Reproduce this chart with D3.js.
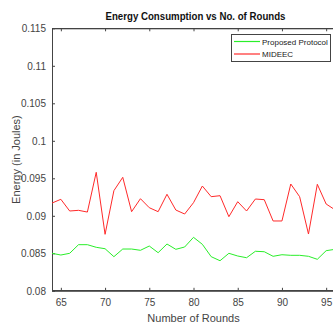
<!DOCTYPE html>
<html><head><meta charset="utf-8">
<script src="https://cdn.jsdelivr.net/npm/d3@7"></script>
<style>body{margin:0;background:#fff;overflow:hidden}svg{display:block}</style>
</head><body>
<svg id="c" width="333" height="325"></svg>
<script>
const rounds = d3.range(64, 97);
const proposed = [0.0850,0.08477,0.0850,0.08615,0.08615,0.0858,0.08561,0.08455,0.08557,0.08557,0.0854,0.08597,0.08508,0.08624,0.08553,0.08584,0.08713,0.0862,0.08455,0.08401,0.0850,0.08464,0.08441,0.08527,0.08521,0.0846,0.08481,0.08473,0.08473,0.0846,0.0842,0.08535,0.08553];
const mideec = [0.0917,0.0922,0.09064,0.09073,0.0905,0.0958,0.08753,0.09335,0.09513,0.09055,0.09228,0.09108,0.09055,0.09287,0.09077,0.09024,0.09175,0.09397,0.09255,0.09268,0.08988,0.09188,0.09064,0.09224,0.09215,0.08931,0.08931,0.09424,0.09255,0.08757,0.0942,0.09157,0.0908];
const xTicks = [65,70,75,80,85,90,95];
const yTicks = [0.08,0.085,0.09,0.095,0.1,0.105,0.11,0.115];
const seriesNames = ["Proposed Protocol","MIDEEC"];
const colors = ["#2aee2a","#ff2a2a"];

const svg = d3.select("#c");
const L=52, R=335, T=28.3, B=290.8;
const x = d3.scaleLinear().domain([64,96]).range([L,R]);
const y = d3.scaleLinear().domain([0.08,0.115]).range([B,T]);
const font = "'Liberation Sans', Arial, sans-serif";

svg.append("rect").attr("x",L).attr("y",T).attr("width",R-L).attr("height",B-T)
  .attr("fill","none").attr("stroke","#444").attr("stroke-width",1).attr("shape-rendering","crispEdges");

const xa = svg.append("g").attr("transform",`translate(0,${B})`)
  .call(d3.axisBottom(x).tickValues(xTicks).tickSizeInner(-3).tickSizeOuter(0).tickPadding(8));
const xt = svg.append("g").attr("transform",`translate(0,${T})`)
  .call(d3.axisTop(x).tickValues(xTicks).tickSizeInner(-3).tickSizeOuter(0).tickFormat(""));
const ya = svg.append("g").attr("transform",`translate(${L},0)`)
  .call(d3.axisLeft(y).tickValues(yTicks).tickSizeInner(-3).tickSizeOuter(0).tickPadding(6).tickFormat(d=>String(+d.toFixed(3))));
[xa,xt,ya].forEach(g=>{
  g.select(".domain").attr("stroke","#444");
  g.selectAll(".tick line").attr("stroke","#444");
  g.selectAll("text").attr("fill","#444").attr("font-family",font).attr("font-size","10px");
});

const line = d3.line().x((d,i)=>x(rounds[i])).y(d=>y(d));
[proposed, mideec].forEach((s,k)=>{
  svg.append("path").datum(s).attr("d",line).attr("fill","none")
    .attr("stroke",colors[k]).attr("stroke-width",1);
});

svg.append("text").attr("x",195.5).attr("y",20).attr("text-anchor","middle")
  .attr("font-family",font).attr("font-weight","bold").attr("font-size","11px").attr("fill","#111")
  .attr("textLength",180).attr("lengthAdjust","spacingAndGlyphs")
  .text("Energy Consumption vs No. of Rounds");
svg.append("text").attr("x",193.5).attr("y",322).attr("text-anchor","middle")
  .attr("font-family",font).attr("font-size","11px").attr("fill","#444").text("Number of Rounds");
svg.append("text").attr("transform",`translate(20,${(T+B)/2}) rotate(-90)`).attr("text-anchor","middle")
  .attr("font-family",font).attr("font-size","11px").attr("fill","#444").text("Energy (in Joules)");

const lg = svg.append("g");
lg.append("rect").attr("x",231.5).attr("y",34.5).attr("width",99).attr("height",27)
  .attr("fill","#fff").attr("stroke","#444").attr("stroke-width",1);
seriesNames.forEach((n,i)=>{
  const yy = 41.5 + i*12.5;
  lg.append("line").attr("x1",234).attr("x2",260).attr("y1",yy).attr("y2",yy)
    .attr("stroke",colors[i]).attr("stroke-width",1.2);
  lg.append("text").attr("x",262).attr("y",yy+3).attr("font-family",font)
    .attr("font-size","8px").attr("fill","#222").text(n);
});
</script>
</body></html>
